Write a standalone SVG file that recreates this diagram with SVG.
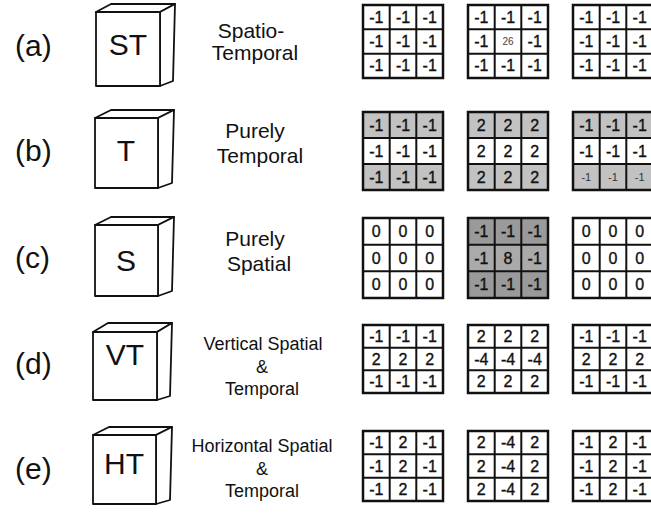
<svg xmlns="http://www.w3.org/2000/svg" width="651" height="517" viewBox="0 0 651 517">
<style>
  text { font-family: "Liberation Sans", Arial, sans-serif; fill: #111; }
  .tag { font-size: 30px; }
  .cube path { fill: #fff; stroke: #111; stroke-width: 1.8; stroke-linejoin: round; }
  .cube text { font-size: 30px; text-anchor: middle; }
  .desc { font-size: 21px; text-anchor: middle; }
  .desc.small { font-size: 18px; }
  .grid .bg { fill: #fff; }
  .grid .frame { fill: none; stroke: #111; stroke-width: 2.5; }
  .grid line { stroke: #111; stroke-width: 2; }
  .grid text { font-size: 16px; text-anchor: middle; stroke: #111; stroke-width: 0.35; }
  .grid text.tiny { font-size: 10px; fill: #444; stroke: none; }
  .grid text.sm { font-size: 11px; fill: #333; stroke: none; }
  .sh { fill: #c2c2c2; }
  .sh2 { fill: #9a9a9a; }
  .sh3 { fill: #aaaaaa; }
</style>

<!-- row tags -->
<g id="tags">
  <text class="tag" x="15" y="56">(a)</text>
  <text class="tag" x="15" y="161">(b)</text>
  <text class="tag" x="15" y="268">(c)</text>
  <text class="tag" x="15" y="374">(d)</text>
  <text class="tag" x="15" y="479">(e)</text>
</g>

<!-- cubes: top face, right face, front face -->
<g id="cube-st" class="cube">
  <path d="M96 12 L111 4 L175 4 L160 12 Z"/>
  <path d="M160 12 L175 4 L173 81 L160 86 Z"/>
  <path d="M96 12 H160 V86 H96 Z"/>
  <text x="128" y="55">ST</text>
</g>
<g id="cube-t" class="cube">
  <path d="M95 118 L111 110 L174 110 L158 118 Z"/>
  <path d="M158 118 L174 110 L172 183 L158 188 Z"/>
  <path d="M95 118 H158 V188 H95 Z"/>
  <text x="126" y="161">T</text>
</g>
<g id="cube-s" class="cube">
  <path d="M95 225 L111 217 L174 217 L158 225 Z"/>
  <path d="M158 225 L174 217 L172 291 L158 296 Z"/>
  <path d="M95 225 H158 V296 H95 Z"/>
  <text x="126" y="271">S</text>
</g>
<g id="cube-vt" class="cube">
  <path d="M93 332 L108 323 L172 323 L157 332 Z"/>
  <path d="M157 332 L172 323 L170 396 L157 400 Z"/>
  <path d="M93 332 H157 V400 H93 Z"/>
  <text x="125" y="365">VT</text>
</g>
<g id="cube-ht" class="cube">
  <path d="M93 435 L109 427 L172 427 L156 435 Z"/>
  <path d="M156 435 L172 427 L170 500 L156 504 Z"/>
  <path d="M93 435 H156 V504 H93 Z"/>
  <text x="124" y="474">HT</text>
</g>

<!-- descriptions -->
<g id="desc-a">
  <text class="desc" x="251" y="38">Spatio-</text>
  <text class="desc" x="255" y="60">Temporal</text>
</g>
<g id="desc-b">
  <text class="desc" x="255" y="138">Purely</text>
  <text class="desc" x="260" y="163">Temporal</text>
</g>
<g id="desc-c">
  <text class="desc" x="255" y="246">Purely</text>
  <text class="desc" x="259" y="271">Spatial</text>
</g>
<g id="desc-d">
  <text class="desc small" x="263" y="350">Vertical Spatial</text>
  <text class="desc small" x="262" y="373">&amp;</text>
  <text class="desc small" x="262" y="395">Temporal</text>
</g>
<g id="desc-e">
  <text class="desc small" x="262" y="452">Horizontal Spatial</text>
  <text class="desc small" x="262" y="475">&amp;</text>
  <text class="desc small" x="262" y="497">Temporal</text>
</g>

<!-- (a) spatio-temporal kernels -->
<g id="grid-a1" class="grid">
  <rect class="bg" x="363" y="5" width="80" height="73"/>
  <line x1="389.7" y1="5" x2="389.7" y2="78"/><line x1="416.3" y1="5" x2="416.3" y2="78"/>
  <line x1="363" y1="29.3" x2="443" y2="29.3"/><line x1="363" y1="53.7" x2="443" y2="53.7"/>
  <rect class="frame" x="363" y="5" width="80" height="73"/>
  <text x="376.3" y="22.8">-1</text><text x="403" y="22.8">-1</text><text x="429.7" y="22.8">-1</text>
  <text x="376.3" y="47.1">-1</text><text x="403" y="47.1">-1</text><text x="429.7" y="47.1">-1</text>
  <text x="376.3" y="71.4">-1</text><text x="403" y="71.4">-1</text><text x="429.7" y="71.4">-1</text>
</g>
<g id="grid-a2" class="grid">
  <rect class="bg" x="468" y="5" width="80" height="73"/>
  <line x1="494.7" y1="5" x2="494.7" y2="78"/><line x1="521.3" y1="5" x2="521.3" y2="78"/>
  <line x1="468" y1="29.3" x2="548" y2="29.3"/><line x1="468" y1="53.7" x2="548" y2="53.7"/>
  <rect class="frame" x="468" y="5" width="80" height="73"/>
  <text x="481.3" y="22.8">-1</text><text x="508" y="22.8">-1</text><text x="534.7" y="22.8">-1</text>
  <text x="481.3" y="47.1">-1</text><text class="tiny" x="508" y="45">26</text><text x="534.7" y="47.1">-1</text>
  <text x="481.3" y="71.4">-1</text><text x="508" y="71.4">-1</text><text x="534.7" y="71.4">-1</text>
</g>
<g id="grid-a3" class="grid">
  <rect class="bg" x="573" y="5" width="80" height="73"/>
  <line x1="599.7" y1="5" x2="599.7" y2="78"/><line x1="626.3" y1="5" x2="626.3" y2="78"/>
  <line x1="573" y1="29.3" x2="653" y2="29.3"/><line x1="573" y1="53.7" x2="653" y2="53.7"/>
  <rect class="frame" x="573" y="5" width="80" height="73"/>
  <text x="586.3" y="22.8">-1</text><text x="613" y="22.8">-1</text><text x="639.7" y="22.8">-1</text>
  <text x="586.3" y="47.1">-1</text><text x="613" y="47.1">-1</text><text x="639.7" y="47.1">-1</text>
  <text x="586.3" y="71.4">-1</text><text x="613" y="71.4">-1</text><text x="639.7" y="71.4">-1</text>
</g>

<!-- (b) purely temporal kernels -->
<g id="grid-b1" class="grid">
  <rect class="bg" x="363" y="112" width="80" height="78"/>
  <rect class="sh" x="363" y="112" width="80" height="26"/><rect class="sh" x="363" y="164" width="80" height="26"/>
  <line x1="389.7" y1="112" x2="389.7" y2="190"/><line x1="416.3" y1="112" x2="416.3" y2="190"/>
  <line x1="363" y1="138" x2="443" y2="138"/><line x1="363" y1="164" x2="443" y2="164"/>
  <rect class="frame" x="363" y="112" width="80" height="78"/>
  <text x="376.3" y="130.6">-1</text><text x="403" y="130.6">-1</text><text x="429.7" y="130.6">-1</text>
  <text x="376.3" y="156.6">-1</text><text x="403" y="156.6">-1</text><text x="429.7" y="156.6">-1</text>
  <text x="376.3" y="182.6">-1</text><text x="403" y="182.6">-1</text><text x="429.7" y="182.6">-1</text>
</g>
<g id="grid-b2" class="grid">
  <rect class="bg" x="468" y="112" width="80" height="78"/>
  <rect class="sh" x="468" y="112" width="80" height="26"/><rect class="sh" x="468" y="164" width="80" height="26"/>
  <line x1="494.7" y1="112" x2="494.7" y2="190"/><line x1="521.3" y1="112" x2="521.3" y2="190"/>
  <line x1="468" y1="138" x2="548" y2="138"/><line x1="468" y1="164" x2="548" y2="164"/>
  <rect class="frame" x="468" y="112" width="80" height="78"/>
  <text x="481.3" y="130.6">2</text><text x="508" y="130.6">2</text><text x="534.7" y="130.6">2</text>
  <text x="481.3" y="156.6">2</text><text x="508" y="156.6">2</text><text x="534.7" y="156.6">2</text>
  <text x="481.3" y="182.6">2</text><text x="508" y="182.6">2</text><text x="534.7" y="182.6">2</text>
</g>
<g id="grid-b3" class="grid">
  <rect class="bg" x="573" y="112" width="80" height="78"/>
  <rect class="sh" x="573" y="112" width="80" height="26"/><rect class="sh" x="573" y="164" width="80" height="26"/>
  <line x1="599.7" y1="112" x2="599.7" y2="190"/><line x1="626.3" y1="112" x2="626.3" y2="190"/>
  <line x1="573" y1="138" x2="653" y2="138"/><line x1="573" y1="164" x2="653" y2="164"/>
  <rect class="frame" x="573" y="112" width="80" height="78"/>
  <text x="586.3" y="130.6">-1</text><text x="613" y="130.6">-1</text><text x="639.7" y="130.6">-1</text>
  <text x="586.3" y="156.6">-1</text><text x="613" y="156.6">-1</text><text x="639.7" y="156.6">-1</text>
  <text class="sm" x="586.3" y="181">-1</text><text class="sm" x="613" y="181">-1</text><text class="sm" x="639.7" y="181">-1</text>
</g>

<!-- (c) purely spatial kernels -->
<g id="grid-c1" class="grid">
  <rect class="bg" x="363" y="218" width="80" height="80"/>
  <line x1="389.7" y1="218" x2="389.7" y2="298"/><line x1="416.3" y1="218" x2="416.3" y2="298"/>
  <line x1="363" y1="244.7" x2="443" y2="244.7"/><line x1="363" y1="271.3" x2="443" y2="271.3"/>
  <rect class="frame" x="363" y="218" width="80" height="80"/>
  <text x="376.3" y="236.9">0</text><text x="403" y="236.9">0</text><text x="429.7" y="236.9">0</text>
  <text x="376.3" y="263.6">0</text><text x="403" y="263.6">0</text><text x="429.7" y="263.6">0</text>
  <text x="376.3" y="290.3">0</text><text x="403" y="290.3">0</text><text x="429.7" y="290.3">0</text>
</g>
<g id="grid-c2" class="grid">
  <rect class="sh2" x="468" y="218" width="80" height="80"/>
  <rect class="sh3" x="468" y="244.7" width="80" height="26.6"/>
  <line x1="494.7" y1="218" x2="494.7" y2="298"/><line x1="521.3" y1="218" x2="521.3" y2="298"/>
  <line x1="468" y1="244.7" x2="548" y2="244.7"/><line x1="468" y1="271.3" x2="548" y2="271.3"/>
  <rect class="frame" x="468" y="218" width="80" height="80"/>
  <text x="481.3" y="236.9">-1</text><text x="508" y="236.9">-1</text><text x="534.7" y="236.9">-1</text>
  <text x="481.3" y="263.6">-1</text><text x="508" y="263.6">8</text><text x="534.7" y="263.6">-1</text>
  <text x="481.3" y="290.3">-1</text><text x="508" y="290.3">-1</text><text x="534.7" y="290.3">-1</text>
</g>
<g id="grid-c3" class="grid">
  <rect class="bg" x="573" y="218" width="80" height="80"/>
  <line x1="599.7" y1="218" x2="599.7" y2="298"/><line x1="626.3" y1="218" x2="626.3" y2="298"/>
  <line x1="573" y1="244.7" x2="653" y2="244.7"/><line x1="573" y1="271.3" x2="653" y2="271.3"/>
  <rect class="frame" x="573" y="218" width="80" height="80"/>
  <text x="586.3" y="236.9">0</text><text x="613" y="236.9">0</text><text x="639.7" y="236.9">0</text>
  <text x="586.3" y="263.6">0</text><text x="613" y="263.6">0</text><text x="639.7" y="263.6">0</text>
  <text x="586.3" y="290.3">0</text><text x="613" y="290.3">0</text><text x="639.7" y="290.3">0</text>
</g>

<!-- (d) vertical spatial & temporal kernels -->
<g id="grid-d1" class="grid">
  <rect class="bg" x="363" y="325" width="80" height="68"/>
  <line x1="389.7" y1="325" x2="389.7" y2="393"/><line x1="416.3" y1="325" x2="416.3" y2="393"/>
  <line x1="363" y1="347.7" x2="443" y2="347.7"/><line x1="363" y1="370.3" x2="443" y2="370.3"/>
  <rect class="frame" x="363" y="325" width="80" height="68"/>
  <text x="376.3" y="341.9">-1</text><text x="403" y="341.9">-1</text><text x="429.7" y="341.9">-1</text>
  <text x="376.3" y="364.6">2</text><text x="403" y="364.6">2</text><text x="429.7" y="364.6">2</text>
  <text x="376.3" y="387.3">-1</text><text x="403" y="387.3">-1</text><text x="429.7" y="387.3">-1</text>
</g>
<g id="grid-d2" class="grid">
  <rect class="bg" x="468" y="325" width="80" height="68"/>
  <line x1="494.7" y1="325" x2="494.7" y2="393"/><line x1="521.3" y1="325" x2="521.3" y2="393"/>
  <line x1="468" y1="347.7" x2="548" y2="347.7"/><line x1="468" y1="370.3" x2="548" y2="370.3"/>
  <rect class="frame" x="468" y="325" width="80" height="68"/>
  <text x="481.3" y="341.9">2</text><text x="508" y="341.9">2</text><text x="534.7" y="341.9">2</text>
  <text x="481.3" y="364.6">-4</text><text x="508" y="364.6">-4</text><text x="534.7" y="364.6">-4</text>
  <text x="481.3" y="387.3">2</text><text x="508" y="387.3">2</text><text x="534.7" y="387.3">2</text>
</g>
<g id="grid-d3" class="grid">
  <rect class="bg" x="573" y="325" width="80" height="68"/>
  <line x1="599.7" y1="325" x2="599.7" y2="393"/><line x1="626.3" y1="325" x2="626.3" y2="393"/>
  <line x1="573" y1="347.7" x2="653" y2="347.7"/><line x1="573" y1="370.3" x2="653" y2="370.3"/>
  <rect class="frame" x="573" y="325" width="80" height="68"/>
  <text x="586.3" y="341.9">-1</text><text x="613" y="341.9">-1</text><text x="639.7" y="341.9">-1</text>
  <text x="586.3" y="364.6">2</text><text x="613" y="364.6">2</text><text x="639.7" y="364.6">2</text>
  <text x="586.3" y="387.3">-1</text><text x="613" y="387.3">-1</text><text x="639.7" y="387.3">-1</text>
</g>

<!-- (e) horizontal spatial & temporal kernels -->
<g id="grid-e1" class="grid">
  <rect class="bg" x="363" y="431" width="80" height="70"/>
  <line x1="389.7" y1="431" x2="389.7" y2="501"/><line x1="416.3" y1="431" x2="416.3" y2="501"/>
  <line x1="363" y1="454.3" x2="443" y2="454.3"/><line x1="363" y1="477.7" x2="443" y2="477.7"/>
  <rect class="frame" x="363" y="431" width="80" height="70"/>
  <text x="376.3" y="448.3">-1</text><text x="403" y="448.3">2</text><text x="429.7" y="448.3">-1</text>
  <text x="376.3" y="471.6">-1</text><text x="403" y="471.6">2</text><text x="429.7" y="471.6">-1</text>
  <text x="376.3" y="494.9">-1</text><text x="403" y="494.9">2</text><text x="429.7" y="494.9">-1</text>
</g>
<g id="grid-e2" class="grid">
  <rect class="bg" x="468" y="431" width="80" height="70"/>
  <line x1="494.7" y1="431" x2="494.7" y2="501"/><line x1="521.3" y1="431" x2="521.3" y2="501"/>
  <line x1="468" y1="454.3" x2="548" y2="454.3"/><line x1="468" y1="477.7" x2="548" y2="477.7"/>
  <rect class="frame" x="468" y="431" width="80" height="70"/>
  <text x="481.3" y="448.3">2</text><text x="508" y="448.3">-4</text><text x="534.7" y="448.3">2</text>
  <text x="481.3" y="471.6">2</text><text x="508" y="471.6">-4</text><text x="534.7" y="471.6">2</text>
  <text x="481.3" y="494.9">2</text><text x="508" y="494.9">-4</text><text x="534.7" y="494.9">2</text>
</g>
<g id="grid-e3" class="grid">
  <rect class="bg" x="573" y="431" width="80" height="70"/>
  <line x1="599.7" y1="431" x2="599.7" y2="501"/><line x1="626.3" y1="431" x2="626.3" y2="501"/>
  <line x1="573" y1="454.3" x2="653" y2="454.3"/><line x1="573" y1="477.7" x2="653" y2="477.7"/>
  <rect class="frame" x="573" y="431" width="80" height="70"/>
  <text x="586.3" y="448.3">-1</text><text x="613" y="448.3">2</text><text x="639.7" y="448.3">-1</text>
  <text x="586.3" y="471.6">-1</text><text x="613" y="471.6">2</text><text x="639.7" y="471.6">-1</text>
  <text x="586.3" y="494.9">-1</text><text x="613" y="494.9">2</text><text x="639.7" y="494.9">-1</text>
</g>

<g id="connectors"/>
</svg>
